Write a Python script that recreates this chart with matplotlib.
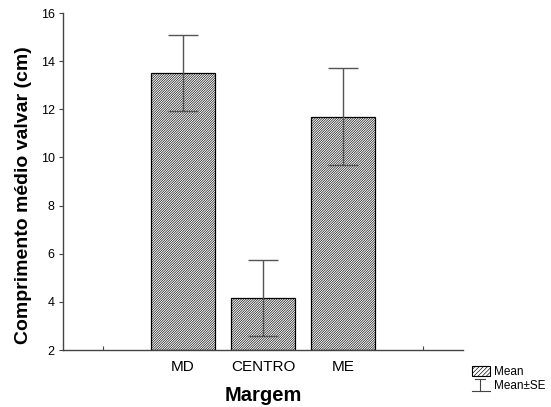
import matplotlib
matplotlib.use("Agg")
import matplotlib.pyplot as plt
from matplotlib.patches import Patch
from matplotlib.lines import Line2D
from matplotlib.legend_handler import HandlerBase

plt.rcParams['font.family'] = ['Liberation Sans', 'DejaVu Sans']
plt.rcParams['hatch.linewidth'] = 0.45

categories = ["MD", "CENTRO", "ME"]
means = [13.5, 4.18, 11.7]
se = [1.58, 1.58, 2.0]
positions = [1, 2, 3]
yticks = [2, 4, 6, 8, 10, 12, 14, 16]

HATCH = "/" * 14

fig = plt.figure(figsize=(5.51, 4.07), dpi=100)
ax = fig.add_axes([0.1143, 0.140, 0.726, 0.828])

ax.bar(positions, [m - 2 for m in means], bottom=2, width=0.79,
       color="white", edgecolor="black", hatch=HATCH, linewidth=0.9, zorder=2)
ax.errorbar(positions, means, yerr=se, fmt="none", ecolor="#555555",
            elinewidth=1.0, capsize=11, capthick=1.0, zorder=3)

ax.set_xlim(-0.5, 4.5)
ax.set_ylim(2, 16)
ax.set_yticks(yticks)
ax.set_xticks([0, 1, 2, 3, 4])
ax.set_xticklabels(["", "MD", "CENTRO", "ME", ""], fontsize=11)
ax.tick_params(axis="x", direction="in", length=3, width=0.8, color="#444444", pad=7)
ax.tick_params(axis="y", direction="out", length=3, width=0.8, color="#444444",
               labelsize=9, pad=3)
for s in ["top", "right"]:
    ax.spines[s].set_visible(False)
for s in ["left", "bottom"]:
    ax.spines[s].set_color("#444444")
    ax.spines[s].set_linewidth(1.0)

ax.set_xlabel("Margem", fontsize=14.5, fontweight="bold", labelpad=9)
ax.set_ylabel("Comprimento médio valvar (cm)", fontsize=14, fontweight="bold")
ax.yaxis.set_label_coords(-0.078, 0.46)


class HandlerSE(HandlerBase):
    """Legend key for the error bar: stem with a short top cap and a wide base."""
    def create_artists(self, legend, orig_handle, xdescent, ydescent,
                       width, height, fontsize, trans):
        cx = width * 0.45 - xdescent
        y0 = -ydescent - 1
        y1 = height - ydescent + 1
        kw = dict(color="#444444", lw=0.8, transform=trans)
        v = Line2D([cx, cx], [y0, y1], **kw)
        b = Line2D([-xdescent, width - xdescent], [y0, y0], **kw)
        t = Line2D([cx - width * 0.27, cx + width * 0.27], [y1, y1], **kw)
        return [v, b, t]


mean_handle = Patch(facecolor="white", edgecolor="black", hatch="/" * 8, linewidth=0.8)
se_handle = Line2D([], [])
fig.legend([mean_handle, se_handle], ["Mean", "Mean±SE"],
           handler_map={Line2D: HandlerSE()},
           loc="upper left", bbox_to_anchor=(0.846, 0.115), frameon=False,
           fontsize=8.5, handlelength=1.5, handleheight=0.8, handletextpad=0.35,
           labelspacing=0.15, borderpad=0)

fig.savefig("out.png", dpi=100)
